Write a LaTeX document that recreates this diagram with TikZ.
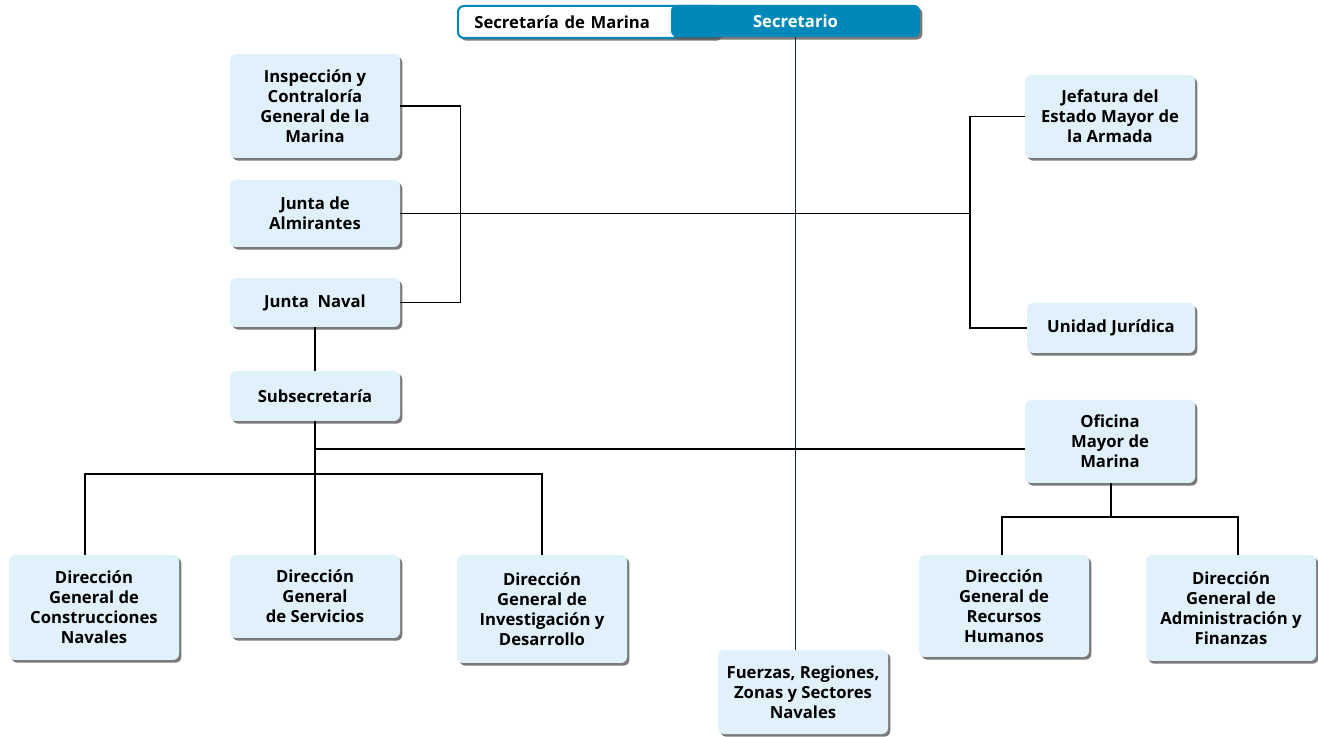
\documentclass[tikz,border=0pt]{standalone}
\usepackage{fontspec}
\setmainfont{Open Sans}
\usetikzlibrary{shadows,calc}
\definecolor{boxfill}{HTML}{E1F1FB}
\definecolor{secblue}{HTML}{0088B9}
\definecolor{navy}{HTML}{0A2A45}
\tikzset{
  orgbox/.style={draw=none, fill=boxfill, rounded corners=4.5pt, align=center,
    font=\fontsize{12.5}{15}\selectfont\bfseries, inner sep=1pt,
    drop shadow={shadow xshift=1.8pt, shadow yshift=-2pt, fill=black!65, opacity=0.8}},
  link/.style={draw=black, line width=0.9pt},
}
\begin{document}
\begin{tikzpicture}[x=0.75pt, y=-0.75pt]
\useasboundingbox (0,0) rectangle (1318,737);
% header
\node[draw=secblue, line width=1.5pt, fill=white, rounded corners=4.5pt, minimum width=196.5pt, minimum height=24pt,
  font=\fontsize{12.5}{15}\selectfont\bfseries, text width=180pt, align=left, inner sep=0pt,
  drop shadow={shadow xshift=1.8pt, shadow yshift=-2pt, fill=black!65, opacity=0.8}] (sm) at (589,22) {\hspace*{4pt}Secretaría de Marina};
\node[fill=secblue, rounded corners=4.5pt, minimum width=186.75pt, minimum height=24pt, text=white,
  font=\fontsize{12.5}{15}\selectfont\bfseries, inner sep=0pt,
  drop shadow={shadow xshift=1.8pt, shadow yshift=-2pt, fill=black!65, opacity=0.8}] (sec) at (795.5,21) {Secretario};
% left column
\node[orgbox, minimum width=127.5pt, minimum height=78pt] (insp) at (315,106) {Inspección y\\Contraloría\\General de la\\Marina};
\node[orgbox, minimum width=127.5pt, minimum height=50.25pt] (junta) at (315,213.5) {Junta de\\Almirantes};
\node[orgbox, minimum width=127.5pt, minimum height=36.75pt] (naval) at (315,302.5) {Junta\ \ Naval};
\node[orgbox, minimum width=127.5pt, minimum height=37.5pt] (subs) at (315,396) {Subsecretaría};
% right column
\node[orgbox, minimum width=127.5pt, minimum height=62.25pt] (jef) at (1110,116.5) {Jefatura del\\Estado Mayor de\\la Armada};
\node[orgbox, minimum width=126pt, minimum height=37.5pt] (uni) at (1111,328) {Unidad Jurídica};
\node[orgbox, minimum width=127.5pt, minimum height=62.25pt] (ofi) at (1110,441.5) {Oficina\\Mayor de\\Marina};
% bottom row
\node[orgbox, minimum width=127.5pt, minimum height=78.75pt] (dgc) at (94,607.5) {Dirección\\General de\\Construcciones\\Navales};
\node[orgbox, minimum width=127.5pt, minimum height=62.25pt] (dgs) at (315,596.5) {Dirección\\General\\de Servicios};
\node[orgbox, minimum width=127.5pt, minimum height=81pt] (dgi) at (542,609) {Dirección\\General de\\Investigación y\\Desarrollo};
\node[orgbox, minimum width=127.5pt, minimum height=63pt] (fue) at (803,692) {Fuerzas, Regiones,\\Zonas y Sectores\\Navales};
\node[orgbox, minimum width=127.5pt, minimum height=76.5pt] (dgr) at (1004,606) {Dirección\\General de\\Recursos\\Humanos};
\node[orgbox, minimum width=127.5pt, minimum height=79.5pt] (dga) at (1231,608) {Dirección\\General de\\Administración y\\Finanzas};
% helper coordinates
\coordinate (rb) at (970,214);
\coordinate (oj) at (316,449);
\coordinate (lb) at (316,474);
\coordinate (ob) at (1111,517);
\coordinate (xl) at (85,0);
\coordinate (xr1) at (1002,0);
\coordinate (xr2) at (1238,0);
% connectors
\draw[navy, line width=1.2pt] (sec.south) -- (sec.south |- fue.north);
\draw[link] (insp.east) -- ++(60,0) |- (naval.east);
\draw[link] (junta.east) -- (junta.east -| rb);
\draw[link] (jef.west) -- (jef.west -| rb) -- (uni.west -| rb) -- (uni.west);
\draw[link] (naval.south) -- (subs.north);
\draw[link] (subs.south) -- (dgs.north);
\draw[link] (oj) -- (oj -| ofi.west);
\draw[link] (dgc.north -| xl) -- (lb -| xl) -- (dgi.north |- lb) -- (dgi.north);
\draw[link] (ofi.south -| ob) -- (ob);
\draw[link] (dgr.north -| xr1) -- (ob -| xr1) -- (ob -| xr2) -- (dga.north -| xr2);
\end{tikzpicture}
\end{document}
